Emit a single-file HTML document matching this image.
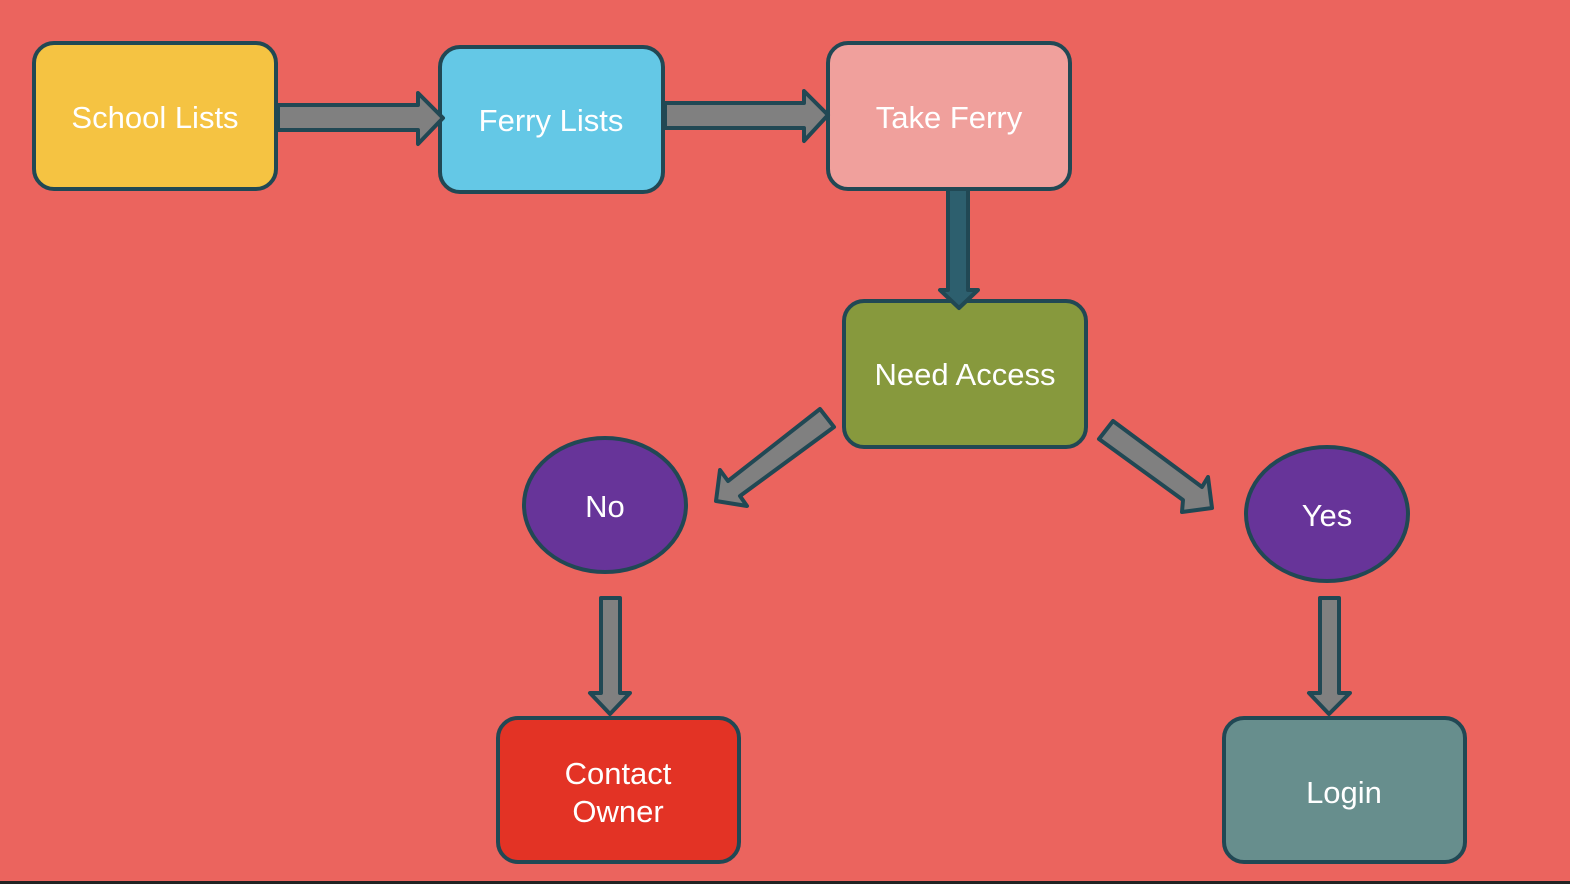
<!DOCTYPE html>
<html><head><style>
html,body{margin:0;padding:0;background:#EB645E;}
svg{display:block;}
text{font-family:"Liberation Sans",sans-serif;font-size:31px;fill:#fff;text-anchor:middle;}
</style></head><body>
<svg width="1570" height="884" viewBox="0 0 1570 884" xmlns="http://www.w3.org/2000/svg">
<rect x="0" y="0" width="1570" height="884" fill="#EB645E"/>
<rect x="0" y="881" width="1570" height="3" fill="#222"/>
<g stroke="#214854" stroke-width="4" stroke-linejoin="round">
<rect x="34" y="43" width="242" height="146" rx="20" fill="#F5C342"/>
<rect x="440" y="47" width="223" height="145" rx="20" fill="#64C8E6"/>
<rect x="828" y="43" width="242" height="146" rx="20" fill="#F0A09C"/>
<rect x="844" y="301" width="242" height="146" rx="20" fill="#87993D"/>
<ellipse cx="605" cy="505" rx="81" ry="67" fill="#673499"/>
<ellipse cx="1327" cy="514" rx="81" ry="67" fill="#673499"/>
<rect x="498" y="718" width="241" height="144" rx="20" fill="#E33325"/>
<rect x="1224" y="718" width="241" height="144" rx="20" fill="#678E8D"/>
<polygon points="278,105 418,105 418,93 443,118 418,144 418,130 278,130" fill="#808080"/>
<polygon points="665,103 804,103 804,91 828,115 804,141 804,128 665,128" fill="#808080"/>
<polygon points="948,189 968,189 968,290 978,290 959,308 940,290 948,290" fill="#2D5F6E"/>
<polygon points="820,409 834,427 740,496 747,506 716,501 720,470 728,481" fill="#808080"/>
<polygon points="1113,421 1099,439 1183,500 1182,512 1212,508 1208,477 1202,487" fill="#808080"/>
<polygon points="601,598 620,598 620,693 630,693 610,714 590,693 601,693" fill="#808080"/>
<polygon points="1320,598 1339,598 1339,693 1350,693 1329,714 1309,693 1320,693" fill="#808080"/>
</g>
<text x="155" y="128">School Lists</text>
<text x="551" y="131">Ferry Lists</text>
<text x="949" y="128">Take Ferry</text>
<text x="965" y="385">Need Access</text>
<text x="605" y="517">No</text>
<text x="1327" y="526">Yes</text>
<text x="618" y="784">Contact</text>
<text x="618" y="822">Owner</text>
<text x="1344" y="803">Login</text>
</svg>
</body></html>
